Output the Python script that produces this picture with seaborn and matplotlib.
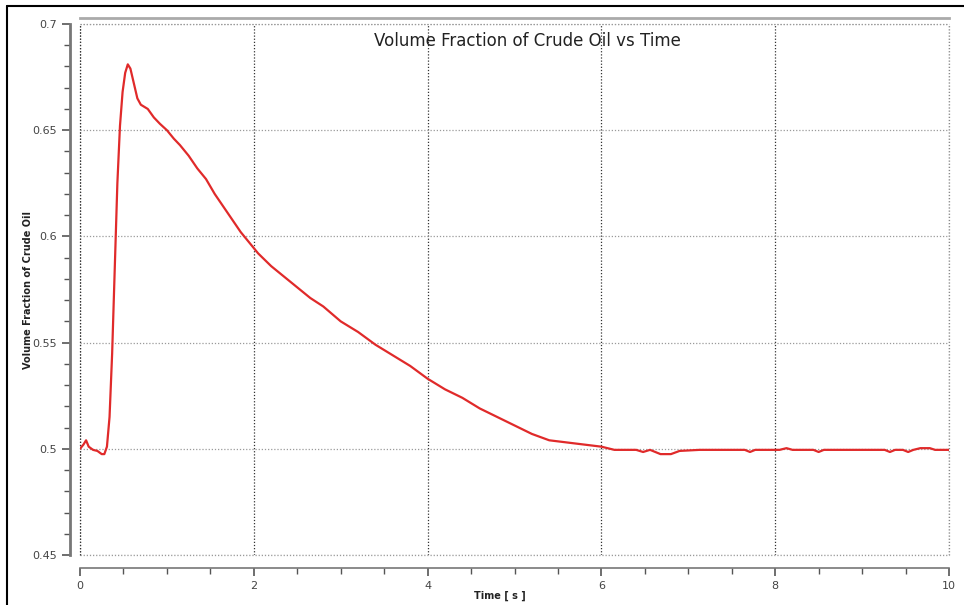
import matplotlib
matplotlib.use("Agg")
import matplotlib.pyplot as plt
from matplotlib.ticker import MultipleLocator
from matplotlib.lines import Line2D
import seaborn as sns
import pandas as pd

time_s = [0.00, 0.04, 0.07, 0.10, 0.15, 0.20, 0.25, 0.28, 0.31, 0.34, 0.37, 0.40,
          0.43, 0.46, 0.49, 0.52, 0.55, 0.58, 0.62, 0.66, 0.70, 0.78, 0.85, 0.92,
          1.00, 1.08, 1.15, 1.25, 1.35, 1.45, 1.55, 1.65, 1.75, 1.85, 1.95, 2.05,
          2.20, 2.35, 2.50, 2.65, 2.80, 3.00, 3.20, 3.40, 3.60, 3.80, 4.00, 4.20,
          4.40, 4.60, 4.80, 5.00, 5.20, 5.40, 5.60, 5.80, 6.00, 6.15, 6.40, 6.48,
          6.56, 6.68, 6.80, 6.90, 7.13, 7.65, 7.71, 7.77, 8.05, 8.13, 8.20, 8.44,
          8.50, 8.56, 9.26, 9.32, 9.38, 9.47, 9.53, 9.59, 9.67, 9.78, 9.84, 10.00]
vol_frac = [0.5000, 0.5020, 0.5040, 0.5010, 0.4995, 0.4990, 0.4975, 0.4975, 0.5010, 0.5150,
            0.5450, 0.5850, 0.6250, 0.6520, 0.6680, 0.6770, 0.6810, 0.6790, 0.6720, 0.6650,
            0.6620, 0.6600, 0.6560, 0.6530, 0.6500, 0.6460, 0.6430, 0.6380, 0.6320, 0.6270,
            0.6200, 0.6140, 0.6080, 0.6020, 0.5970, 0.5920, 0.5860, 0.5810, 0.5760, 0.5710,
            0.5670, 0.5600, 0.5550, 0.5490, 0.5440, 0.5390, 0.5330, 0.5280, 0.5240, 0.5190,
            0.5150, 0.5110, 0.5070, 0.5040, 0.5030, 0.5020, 0.5010, 0.4995, 0.4995, 0.4985,
            0.4995, 0.4975, 0.4975, 0.4990, 0.4995, 0.4995, 0.4985, 0.4995, 0.4995, 0.5003,
            0.4995, 0.4995, 0.4985, 0.4995, 0.4995, 0.4985, 0.4995, 0.4995, 0.4985, 0.4995,
            0.5003, 0.5003, 0.4995, 0.4995]

x_ticks = [0, 2, 4, 6, 8, 10]
x_tick_labels = ["0", "2", "4", "6", "8", "10"]
y_ticks = [0.45, 0.5, 0.55, 0.6, 0.65, 0.7]
y_tick_labels = ["0.45", "0.5", "0.55", "0.6", "0.65", "0.7"]

df = pd.DataFrame({"Time": time_s, "VF": vol_frac})

sns.set_style("white")
plt.rcParams["font.family"] = ["DejaVu Sans"]

fig = plt.figure(figsize=(9.64, 6.05), dpi=100)
ax = fig.add_axes([80 / 964, 1 - 555 / 605, (949 - 80) / 964, (555 - 24) / 605])

sns.lineplot(data=df, x="Time", y="VF", ax=ax, color="#e02a2a", linewidth=1.6)

ax.set_xlim(0, 10)
ax.set_ylim(0.45, 0.7)
ax.set_xticks(x_ticks)
ax.set_xticklabels(x_tick_labels)
ax.set_yticks(y_ticks)
ax.set_yticklabels(y_tick_labels)
ax.xaxis.set_minor_locator(MultipleLocator(0.5))
ax.yaxis.set_minor_locator(MultipleLocator(0.01))

hgrid = dict(linestyle=(0, (1, 1.5)), color="#9a9a9a", linewidth=0.9)
vgrid = dict(linestyle=(0, (1, 1.5)), color="#333333", linewidth=0.9)
ax.yaxis.grid(True, **hgrid)
ax.xaxis.grid(True, **vgrid)
# edge grid lines drawn unclipped so they show at full weight
for yv in (y_ticks[0], y_ticks[-1]):
    ax.axhline(yv, clip_on=False, zorder=0.5, **hgrid)
for xv in (x_ticks[0], x_ticks[-1]):
    ax.axvline(xv, clip_on=False, zorder=0.5,
               **(vgrid if xv == x_ticks[0] else dict(hgrid, color="#888888")))

ax.spines["right"].set_visible(False)
ax.spines["left"].set_position(("outward", 7))
ax.spines["bottom"].set_position(("outward", 9))
ax.spines["top"].set_position(("outward", 4))
ax.spines["left"].set_color("#777777")
ax.spines["left"].set_linewidth(2.0)
ax.spines["bottom"].set_color("#777777")
ax.spines["bottom"].set_linewidth(1.2)
ax.spines["top"].set_color("#aaaaaa")
ax.spines["top"].set_linewidth(2.0)

ax.tick_params(axis="both", which="major", direction="out", length=6, width=1.2,
               color="#555555", labelsize=8, labelcolor="#444444", bottom=True, left=True)
ax.tick_params(axis="both", which="minor", direction="out", length=4, width=1.0,
               color="#555555", bottom=True, left=True)

ax.set_xlabel("Time [ s ]", fontsize=7, fontweight="bold", color="#222222")
ax.set_ylabel("Volume Fraction of Crude Oil", fontsize=7, fontweight="bold", color="#222222")
ax.xaxis.set_label_coords(0.483, -0.068)
ax.yaxis.set_label_coords(-0.054, 0.5)

ax.text(0.515, 0.985, "Volume Fraction of Crude Oil vs Time", transform=ax.transAxes,
        ha="center", va="top", fontsize=12, color="#222222")

# outer frame (left and top edges)
fig.add_artist(Line2D([7 / 964, 7 / 964], [0, 1 - 6 / 605], transform=fig.transFigure,
                      color="black", linewidth=1.5))
fig.add_artist(Line2D([7 / 964, 1], [1 - 6 / 605, 1 - 6 / 605], transform=fig.transFigure,
                      color="black", linewidth=1.5))

fig.savefig("out.png", dpi=100)
